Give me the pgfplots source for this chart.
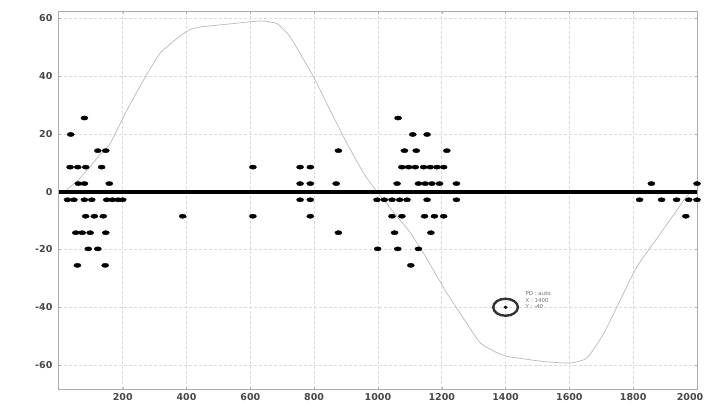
\documentclass[border=0pt]{standalone}
\usepackage{pgfplots}
\pgfplotsset{compat=1.18}
\usepackage{pgfplotstable}
\usepackage{fontspec}
\setmainfont{DejaVu Sans}
\pgfplotstableread{
x y
24 0.6
60 4
100 9
130 13
160 16.5
213 28.2
265 38.6
317 47.9
370 53
406 55.9
443 57
547 58.2
631 59.1
683 58.2
725 53.6
760 47
798 39.8
850 28.2
903 16.7
955 6.4
997 0
1060 -8.6
1100 -14
1143 -21.3
1216 -35.1
1260 -42.5
1290 -47.5
1321 -52.4
1363 -55.2
1405 -57
1520 -58.8
1603 -59.3
1655 -57.6
1708 -49
1760 -37.4
1812 -25.9
1886 -14.4
1959 -2.9
1980 0
}\curve
\pgfplotstableread{
x y
80 25.5
1063 25.5
37 19.8
1109 19.8
1154 19.8
122 14.2
147 14.2
876 14.2
1083 14.2
1120 14.2
1216 14.2
35 8.5
59 8.5
84 8.5
134 8.5
608 8.5
756 8.5
788 8.5
1075 8.5
1096 8.5
1117 8.5
1143 8.5
1164 8.5
1185 8.5
1206 8.5
61 2.8
80 2.8
158 2.8
756 2.8
788 2.8
869 2.8
1060 2.8
1127 2.8
1148 2.8
1169 2.8
1193 2.8
1246 2.8
1857 2.8
2000 2.8
27 -2.8
47 -2.8
80 -2.8
103 -2.8
150 -2.8
168 -2.8
186 -2.8
200 -2.8
756 -2.8
788 -2.8
997 -2.8
1020 -2.8
1044 -2.8
1068 -2.8
1091 -2.8
1154 -2.8
1246 -2.8
1820 -2.8
1889 -2.8
1936 -2.8
1974 -2.8
2000 -2.8
84 -8.5
111 -8.5
139 -8.5
388 -8.5
608 -8.5
788 -8.5
1044 -8.5
1075 -8.5
1146 -8.5
1177 -8.5
1206 -8.5
1965 -8.5
53 -14.2
73 -14.2
98 -14.2
147 -14.2
876 -14.2
1052 -14.2
1166 -14.2
92 -19.8
122 -19.8
999 -19.8
1062 -19.8
1127 -19.8
58 -25.5
145 -25.5
1103 -25.5
}\dots
\begin{document}
\begin{tikzpicture}
\begin{axis}[
  at={(58.9pt,12.7pt)}, anchor=south west,
  scale only axis, width=638.1pt, height=377.6pt,
  xmin=0, xmax=2000, ymin=-68.4, ymax=62.3,
  xtick={200,400,...,2000},
  xticklabels={200,400,600,800,1000,1200,1400,1600,1800,\hspace*{-14pt}2000},
  ytick={-60,-40,-20,0,20,40,60},
  yticklabels={-60,-40,-20,0,20,40,60},
  ticklabel style={font=\fontsize{9.5}{10}\selectfont\bfseries, text=black!72},
  xticklabel style={yshift=-0.5pt},
  yticklabel style={xshift=-3pt},
  grid=major,
  major grid style={gray!28, densely dashed, line width=0.6pt},
  axis line style={gray!65, line width=0.8pt},
  tick style={gray!60},
  major tick length=2pt,
]
\addplot[gray!55, line width=0.7pt, smooth, tension=0.3] table[x=x,y=y]{\curve};
\addplot[black, line width=3.8pt] coordinates {(0,0) (2000,0)};
\addplot[only marks, mark=*, mark size=2.1pt, mark options={xscale=1.7, black, fill=black}] table[x=x,y=y]{\dots};
\addplot[only marks, mark=o, mark size=8.5pt, mark options={xscale=1.45, black!80, line width=2.4pt}] coordinates {(1400,-40)};
\addplot[only marks, mark=*, mark size=1.4pt, mark options={xscale=1.3, black}] coordinates {(1400,-40)};
\node[anchor=north west, align=left, font=\fontsize{5.5}{6.5}\selectfont, text=black!55, inner sep=0pt] at (axis cs:1462,-34.5) {PD : auto\\X : 1400\\Y : -40};
\end{axis}
\pgfresetboundingbox
\path (0,0) rectangle (707pt,402pt);
\end{tikzpicture}
\end{document}
